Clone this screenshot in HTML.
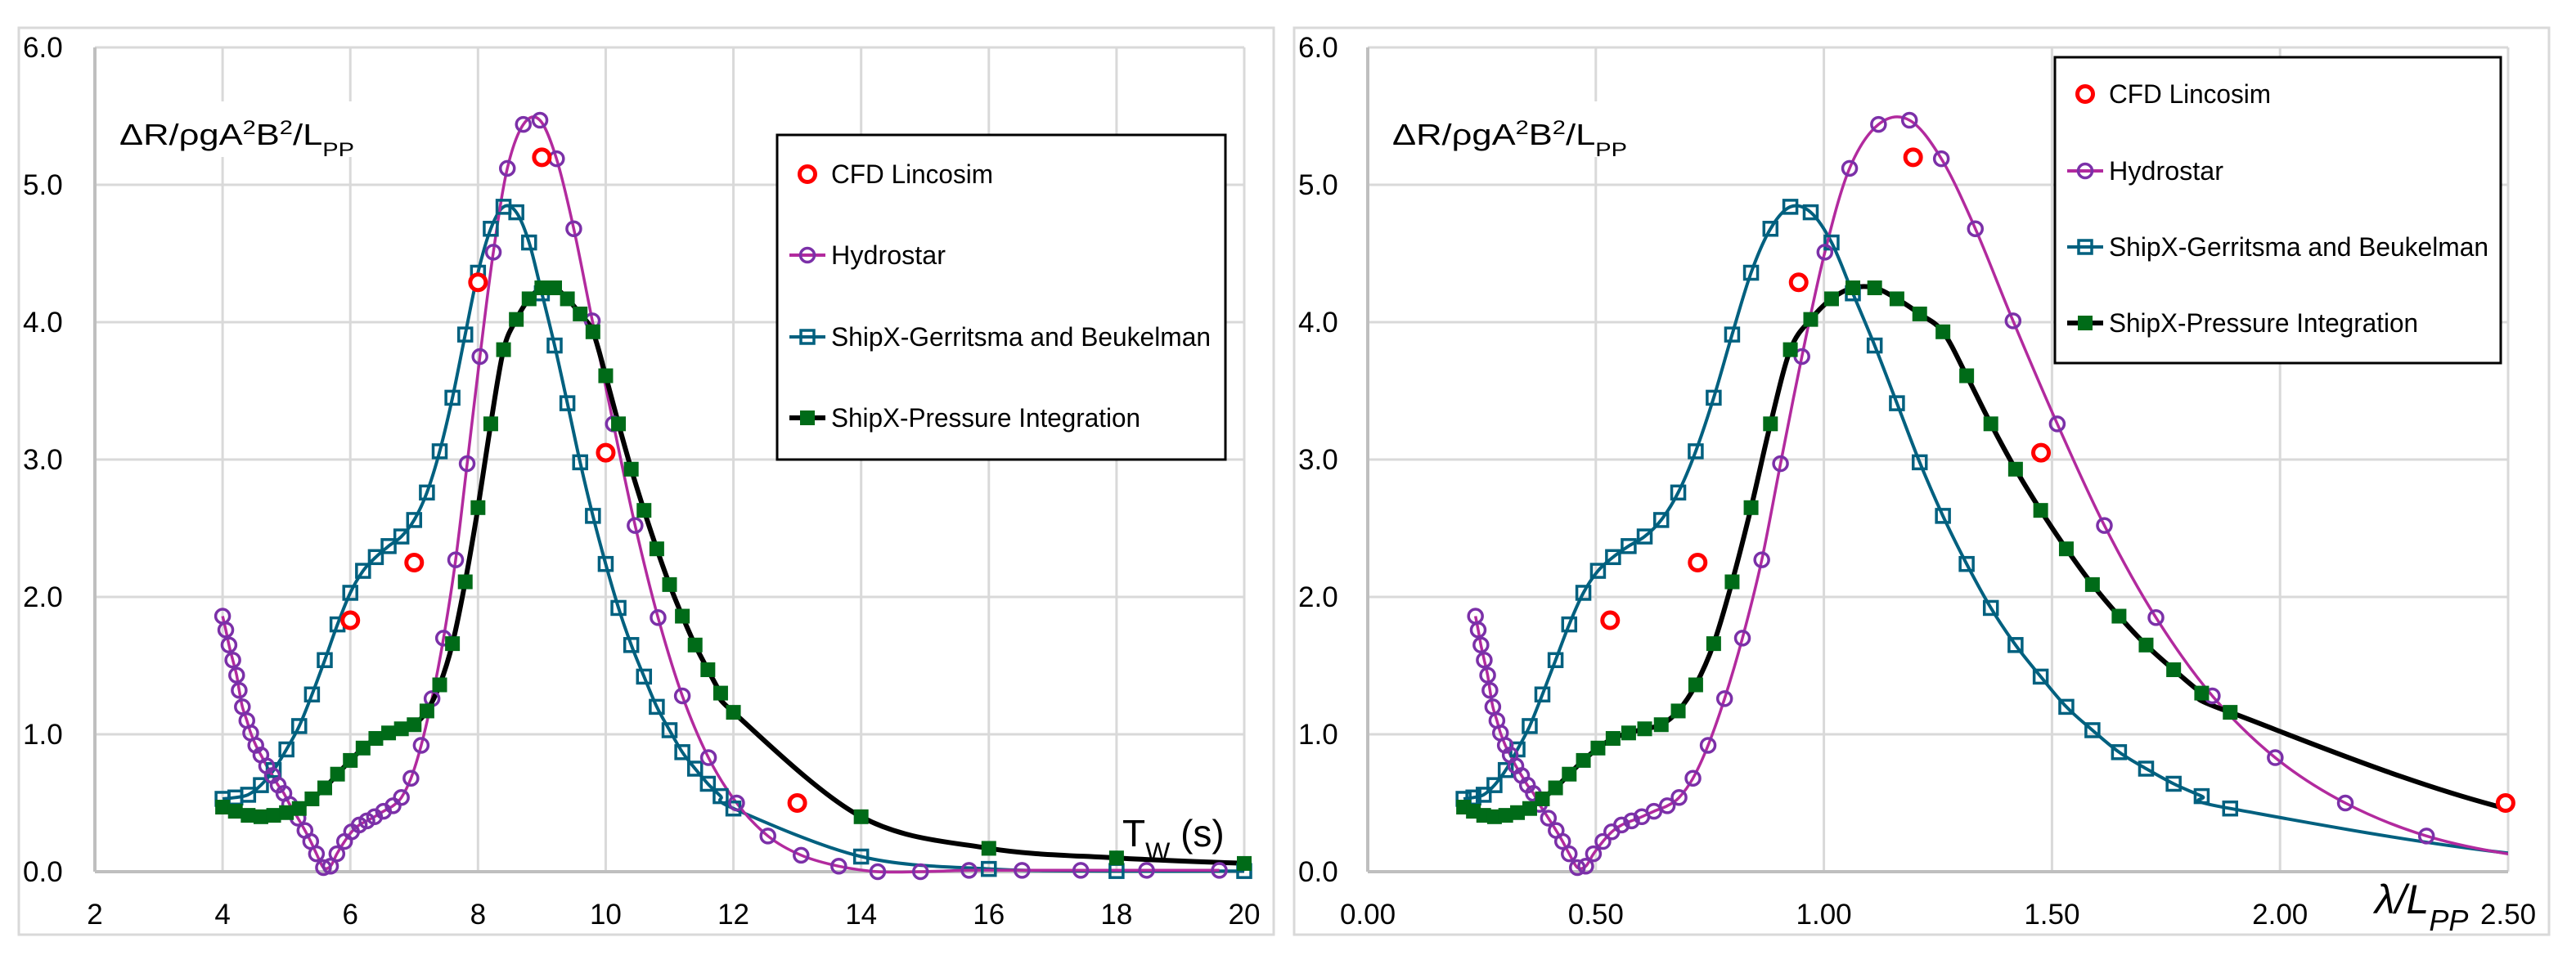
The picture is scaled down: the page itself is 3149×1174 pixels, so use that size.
<!DOCTYPE html>
<html><head><meta charset="utf-8">
<style>
html,body{margin:0;padding:0;background:#fff;}
svg{display:block;}
text{font-family:"Liberation Sans",Arial,sans-serif;fill:#000;}
.narrow{font-family:"Liberation Sans Narrow","Liberation Sans",sans-serif;}
</style></head>
<body>
<svg id="chart" width="3149" height="1174" viewBox="0 0 3149 1174" xmlns="http://www.w3.org/2000/svg">
<rect x="0" y="0" width="3149" height="1174" fill="#fff"/>
</svg>
<script>
// ---- data (T in seconds) ----
const cfdT = [6, 7, 8, 9, 10, 13];
const cfdVal = [1.83, 2.25, 4.29, 5.2, 3.05, 0.5];
const hydroT = [4.0,4.05,4.10,4.16,4.22,4.26,4.31,4.38,4.44,4.52,4.60,4.69,4.78,4.87,4.96,5.05,5.18,5.29,5.38,5.47,5.58,5.69,5.79,5.91,6.02,6.14,6.26,6.38,6.52,6.67,6.80,6.95,7.11,7.28,7.46,7.65,7.83,8.03,8.24,8.46,8.71,8.97,9.23,9.50,9.79,10.12,10.46,10.82,11.20,11.61,12.05,12.54,13.06,13.65,14.26,14.93,15.69,16.52,17.44,18.47,19.61];
const hydroVal = [1.86,1.76,1.65,1.54,1.43,1.32,1.20,1.10,1.01,0.92,0.85,0.77,0.70,0.63,0.57,0.49,0.39,0.30,0.22,0.13,0.03,0.04,0.13,0.22,0.29,0.34,0.37,0.40,0.44,0.48,0.54,0.68,0.92,1.26,1.70,2.27,2.97,3.75,4.51,5.12,5.44,5.47,5.19,4.68,4.01,3.26,2.52,1.85,1.28,0.83,0.50,0.26,0.12,0.04,0.00,0.00,0.01,0.01,0.01,0.01,0.01];
const shipT = [4.0,4.2,4.4,4.6,4.8,5.0,5.2,5.4,5.6,5.8,6.0,6.2,6.4,6.6,6.8,7.0,7.2,7.4,7.6,7.8,8.0,8.2,8.4,8.6,8.8,9.0,9.2,9.4,9.6,9.8,10.0,10.2,10.4,10.6,10.8,11.0,11.2,11.4,11.6,11.8,12.0,14,16,18,20];
const gbVal = [0.53,0.54,0.56,0.63,0.74,0.89,1.06,1.29,1.54,1.80,2.03,2.19,2.29,2.37,2.44,2.56,2.76,3.06,3.45,3.91,4.36,4.68,4.84,4.80,4.58,4.21,3.83,3.41,2.98,2.59,2.24,1.92,1.65,1.42,1.20,1.03,0.87,0.75,0.64,0.55,0.46,0.11,0.02,0.005,0.005];
const piVal = [0.47,0.44,0.41,0.40,0.41,0.43,0.46,0.53,0.61,0.71,0.81,0.90,0.97,1.01,1.04,1.07,1.17,1.36,1.66,2.11,2.65,3.26,3.80,4.02,4.17,4.25,4.25,4.17,4.06,3.93,3.61,3.26,2.93,2.63,2.35,2.09,1.86,1.65,1.47,1.30,1.16,0.40,0.17,0.10,0.06];
// wavelength / Lpp factors (lambda/Lpp = k * T^2)
const kHydro = 0.01476;
const kShip = 0.01313;
const leftXTicks = [2,4,6,8,10,12,14,16,18,20];
const rightXTicks = [0,0.5,1.0,1.5,2.0,2.5];
const rightXTickLabels = ["0.00","0.50","1.00","1.50","2.00","2.50"];
const yTicks = [0,1,2,3,4,5,6];
const yTickLabels = ["0.0","1.0","2.0","3.0","4.0","5.0","6.0"];
const legendLabels = ["CFD Lincosim","Hydrostar","ShipX-Gerritsma and Beukelman","ShipX-Pressure Integration"];

const NS="http://www.w3.org/2000/svg";
const svg=document.getElementById('chart');
function mk(tag,attrs,parent){const e=document.createElementNS(NS,tag);for(const k in attrs)e.setAttribute(k,attrs[k]);(parent||svg).appendChild(e);return e;}

const COL={cfd:"#FF0000",hyL:"#B22A9E",hyM:"#7B30A8",gb:"#00607F",piM:"#006B18",piL:"#000"};

function smoothPath(pts){
  if(pts.length<2)return"";
  let d="M"+pts[0][0].toFixed(1)+","+pts[0][1].toFixed(1);
  for(let i=0;i<pts.length-1;i++){
    const p0=pts[i-1]||pts[i],p1=pts[i],p2=pts[i+1],p3=pts[i+2]||p2;
    const t=1/6;
    const c1=[p1[0]+(p2[0]-p0[0])*t,p1[1]+(p2[1]-p0[1])*t];
    const c2=[p2[0]-(p3[0]-p1[0])*t,p2[1]-(p3[1]-p1[1])*t];
    d+=" C"+c1[0].toFixed(1)+","+c1[1].toFixed(1)+" "+c2[0].toFixed(1)+","+c2[1].toFixed(1)+" "+p2[0].toFixed(1)+","+p2[1].toFixed(1);
  }
  return d;
}

function drawChart(cfg){
  const g=mk('g',{});
  
  
  const {x0,x1,y0,y1,xmin,xmax}=cfg;
  const sx=v=>x0+(v-xmin)/(xmax-xmin)*(x1-x0);
  const sy=v=>y0-(v/6)*(y0-y1);
  const inR=v=>v>=xmin-0.001&&v<=xmax+0.001;
  const fr=mk('rect',{x:cfg.fx0,y:34,width:cfg.fx1-cfg.fx0,height:1143-34,fill:"#fff",stroke:"#D9D9D9","stroke-width":3},g);
  
  
  cfg.xticks.forEach((t,i)=>{
    const l=mk('line',{x1:sx(t),x2:sx(t),y1:y1,y2:y0,stroke:"#D9D9D9","stroke-width":3},g);
    
    
  });
  yTicks.forEach(t=>{
    const l=mk('line',{x1:x0,x2:x1,y1:sy(t),y2:sy(t),stroke:"#D9D9D9","stroke-width":3},g);
    
    
  });
  const ax=mk('line',{x1:x0,x2:x1,y1:y0,y2:y0,stroke:"#BFBFBF","stroke-width":4},g);
  
  
  const ay=mk('line',{x1:x0,x2:x0,y1:y1,y2:y0,stroke:"#BFBFBF","stroke-width":4},g);
  
  
  cfg.xticks.forEach((t,i)=>{
    const tx=mk('text',{x:sx(t),y:1130,"font-size":35,"text-anchor":"middle"},g);
    tx.textContent=cfg.xlabels[i];
    
    
  });
  yTicks.forEach((t,i)=>{
    const tx=mk('text',{x:cfg.fx0+5,y:sy(t)+12,"font-size":35},g);
    tx.textContent=yTickLabels[i];
    
    
  });
  const cid='clip'+cfg.name;
  const cp=mk('clipPath',{id:cid},g);
  mk('rect',{x:x0,y:y1-30,width:x1-x0,height:y0-y1+60},cp);
  const plot=mk('g',{"clip-path":"url(#"+cid+")"},g);
  
  
  const mark=mk('g',{},g);
  
  
  const ybg=mk('rect',{x:x0+22,y:124,width:300,height:68,fill:"#fff"},g);
  
  
  const yt=mk('text',{x:x0+30,y:177,"font-size":36,textLength:287,lengthAdjust:"spacingAndGlyphs"},g);
  yt.innerHTML='ΔR/ρgA<tspan baseline-shift="super" font-size="24">2</tspan>B<tspan baseline-shift="super" font-size="24">2</tspan>/L<tspan baseline-shift="sub" font-size="24">PP</tspan>';
  
  

  const hx=hydroT.map(t=>cfg.conv(t,'h')), shx=shipT.map(t=>cfg.conv(t,'s')), cx=cfdT.map(t=>cfg.conv(t,'h'));
  function line(xs,vals,col,w,name){
    const p=mk('path',{d:smoothPath(xs.map((v,i)=>[sx(v),sy(vals[i])])),fill:"none",stroke:col,"stroke-width":w,"stroke-linejoin":"round"},plot);
    
    
  }
  line(shx,gbVal,COL.gb,4,'gb-line');
  line(hx,hydroVal,COL.hyL,3.5,'hydrostar-line');
  line(shx,piVal,COL.piL,6,'pressure-line');
  shx.forEach((v,i)=>{
    if(!inR(v))return;
    const r=mk('rect',{x:sx(v)-8,y:sy(gbVal[i])-8,width:16,height:16,fill:"none",stroke:COL.gb,"stroke-width":3.5},mark);
    
    
  });
  hx.forEach((v,i)=>{
    if(!inR(v))return;
    const c=mk('circle',{cx:sx(v),cy:sy(hydroVal[i]),r:8.5,fill:"none",stroke:COL.hyM,"stroke-width":3.5},mark);
    
    
  });
  shx.forEach((v,i)=>{
    if(!inR(v))return;
    const r=mk('rect',{x:sx(v)-9,y:sy(piVal[i])-9,width:18,height:18,fill:COL.piM},mark);
    
    
  });
  cx.forEach((v,i)=>{
    if(!inR(v))return;
    const c=mk('circle',{cx:sx(v),cy:sy(cfdVal[i]),r:9.5,fill:"#fff",stroke:COL.cfd,"stroke-width":5},mark);
    
    
  });
  const xt=mk('text',cfg.xtitle.attrs,g);
  xt.innerHTML=cfg.xtitle.html;
  
  
  const L=cfg.legend;
  const lg=mk('g',{},g);
  
  
  mk('rect',{x:L.x,y:L.y,width:L.w,height:L.h,fill:"#fff",stroke:"#000","stroke-width":3},lg);
  const widths=[198,140,464,378];
  legendLabels.forEach((lab,i)=>{
    const cy=L.rows[i], mx=L.x+37;
    const e=mk('g',{},lg);
    
    
    if(i===0){mk('circle',{cx:mx,cy:cy,r:9.5,fill:"#fff",stroke:COL.cfd,"stroke-width":5},e);}
    if(i===1){mk('line',{x1:mx-22,x2:mx+22,y1:cy,y2:cy,stroke:COL.hyL,"stroke-width":4},e);mk('circle',{cx:mx,cy:cy,r:8.5,fill:"none",stroke:COL.hyM,"stroke-width":3.5},e);}
    if(i===2){mk('line',{x1:mx-22,x2:mx+22,y1:cy,y2:cy,stroke:COL.gb,"stroke-width":4},e);mk('rect',{x:mx-8,y:cy-8,width:16,height:16,fill:"none",stroke:COL.gb,"stroke-width":3.5},e);}
    if(i===3){mk('line',{x1:mx-22,x2:mx+22,y1:cy,y2:cy,stroke:"#000","stroke-width":6},e);mk('rect',{x:mx-9,y:cy-9,width:18,height:18,fill:COL.piM},e);}
    const t=mk('text',{x:L.x+66,y:cy+11,"font-size":32,class:"narrow",textLength:widths[i],lengthAdjust:"spacingAndGlyphs"},e);
    t.textContent=lab;
  });
}

drawChart({name:'left-chart',fx0:23,fx1:1557,x0:116,x1:1521,y0:1066,y1:58,xmin:2,xmax:20,
  xticks:leftXTicks,xlabels:leftXTicks.map(String),conv:(t)=>t,
  xtitle:{attrs:{x:1372,y:1035,"font-size":46,class:"narrow"},html:'T<tspan baseline-shift="sub" font-size="32">W</tspan> (s)'},
  legend:{x:950,y:165,w:548,h:397,rows:[213,312,412,511]}});
drawChart({name:'right-chart',fx0:1582,fx1:3116,x0:1672,x1:3066,y0:1066,y1:58,xmin:0,xmax:2.5,
  xticks:rightXTicks,xlabels:rightXTickLabels,conv:(t,k)=>(k==='h'?kHydro:kShip)*t*t,
  xtitle:{attrs:{x:2903,y:1117,"font-size":50,"font-style":"italic"},html:'λ/L<tspan baseline-shift="sub" font-size="36">PP</tspan>'},
  legend:{x:2512,y:70,w:545,h:374,rows:[115,209,302,395]}});
</script>
</body></html>
